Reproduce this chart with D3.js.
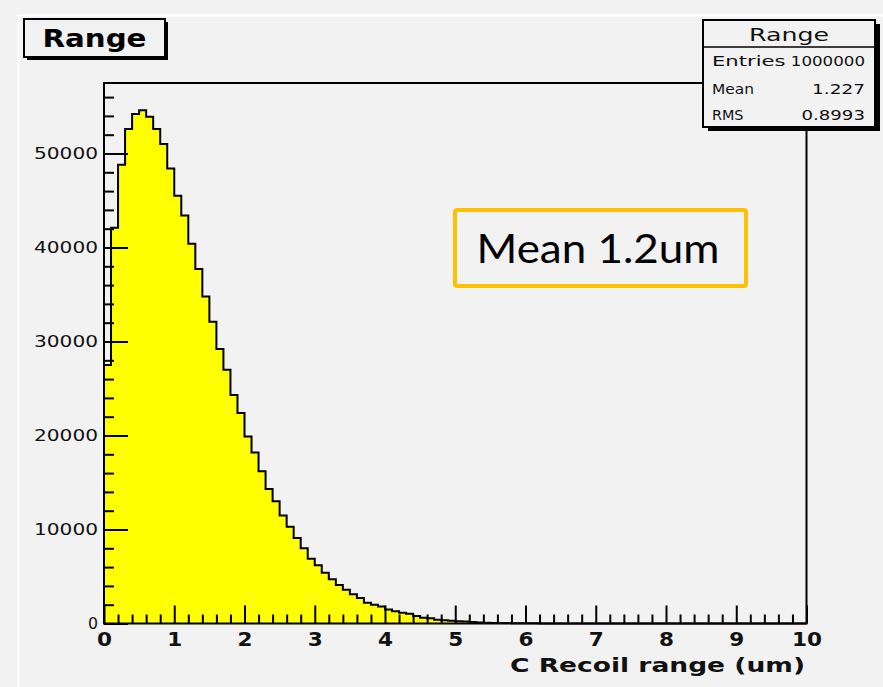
<!DOCTYPE html>
<html>
<head>
<meta charset="utf-8">
<script src="https://cdn.jsdelivr.net/npm/d3@7"></script>
<style>
  html, body { margin: 0; padding: 0; background: #f2f2f2; }
  svg { display: block; }
</style>
</head>
<body>
<svg id="chart" width="883" height="687"></svg>
<script>
// Histogram of C recoil range, 100 bins of 0.1 um from 0 to 10 um
const binLow = 0;
const binHigh = 10;
const binCounts = [
  27500, 42100, 48800, 52600, 54200, 54600, 53900, 52600, 51000, 48400,
  45500, 43400, 40400, 37700, 34800, 32100, 29200, 27000, 24300, 22400,
  19900, 18200, 16200, 14300, 13000, 11500, 10300, 9100, 8000, 6900,
  6200, 5400, 4700, 4100, 3600, 3100, 2700, 2200, 2000, 1800,
  1500, 1300, 1150, 1050, 800, 600, 550, 400, 350, 300,
  250, 200, 150, 100, 80, 60, 50, 40, 30, 25,
  20, 15, 12, 10, 8, 6, 5, 4, 3, 3,
  2, 2, 1, 1, 1, 1, 1, 0, 0, 0,
  0, 0, 0, 0, 0, 0, 0, 0, 0, 0,
  0, 0, 0, 0, 0, 0, 0, 0, 0, 0
];
const yMax = 57500;

// Axis ticks
const xMajorTicks = [0, 1, 2, 3, 4, 5, 6, 7, 8, 9, 10];
const xMinorStep = 0.2;
const yMajorTicks = [0, 10000, 20000, 30000, 40000, 50000];
const yMinorStep = 2000;

// Texts
const histTitle = "Range";
const xTitle = "C Recoil range (um)";
const statsTitle = "Range";
const statsNames = ["Entries", "Mean", "RMS"];
const statsValues = ["1000000", "1.227", "0.8993"];
const noteText = "Mean 1.2um";

const svg = d3.select("#chart");

// canvas background with the light pad edge
svg.append("rect").attr("x", 0).attr("y", 0).attr("width", 883).attr("height", 687).attr("fill", "#f2f2f2");
svg.append("line").attr("x1", 18).attr("x2", 883).attr("y1", 15.5).attr("y2", 15.5)
  .attr("stroke", "#ffffff").attr("stroke-width", 2);
svg.append("line").attr("x1", 18.5).attr("x2", 18.5).attr("y1", 15).attr("y2", 687)
  .attr("stroke", "#ffffff").attr("stroke-width", 2);

const frame = { left: 104, right: 806.5, top: 83, bottom: 623.5 };

const x = d3.scaleLinear().domain([binLow, binHigh]).range([frame.left, frame.right]);
const y = d3.scaleLinear().domain([0, yMax]).range([frame.bottom, frame.top]);

const binWidth = (binHigh - binLow) / binCounts.length;
const steps = binCounts.map((c, i) => ({ x: binLow + i * binWidth, v: c }));
steps.push({ x: binHigh, v: binCounts[binCounts.length - 1] });

// filled histogram
const area = d3.area()
  .curve(d3.curveStepAfter)
  .x(d => x(d.x))
  .y0(y(0))
  .y1(d => y(d.v));
svg.append("path").datum(steps)
  .attr("d", area)
  .attr("fill", "#ffff00");

// histogram outline
const outline = d3.line()
  .curve(d3.curveStepAfter)
  .x(d => x(d.x))
  .y(d => y(d.v));
svg.append("path").datum([{ x: binLow, v: 0 }].concat(steps))
  .attr("d", d3.line().x(d => x(d.x)).y(d => y(d.v))
    .curve(d3.curveStepAfter)(steps))
  .attr("fill", "none")
  .attr("stroke", "#000")
  .attr("stroke-width", 2);
svg.append("line")
  .attr("x1", x(binLow)).attr("x2", x(binLow))
  .attr("y1", y(0)).attr("y2", y(binCounts[0]))
  .attr("stroke", "#000").attr("stroke-width", 2);

// y axis: major and minor ticks pointing into the frame
const yMinorTicks = d3.range(0, yMax, yMinorStep).filter(v => !yMajorTicks.includes(v));
const yAxisG = svg.append("g").attr("transform", `translate(${frame.left},0)`);
yAxisG.call(d3.axisLeft(y).tickValues(yMajorTicks).tickSize(-24).tickPadding(6).tickFormat(d3.format("d")));
const yMinorG = svg.append("g").attr("transform", `translate(${frame.left},0)`);
yMinorG.call(d3.axisLeft(y).tickValues(yMinorTicks).tickSize(-10).tickFormat(""));

// x axis
const xMinorTicks = d3.range(0, binHigh + 1e-9, xMinorStep)
  .map(v => +v.toFixed(1)).filter(v => !xMajorTicks.includes(v));
const xAxisG = svg.append("g").attr("transform", `translate(0,${frame.bottom})`);
xAxisG.call(d3.axisBottom(x).tickValues(xMajorTicks).tickSize(-18).tickPadding(8).tickFormat(d3.format("d")));
const xMinorG = svg.append("g").attr("transform", `translate(0,${frame.bottom})`);
xMinorG.call(d3.axisBottom(x).tickValues(xMinorTicks).tickSize(-9).tickFormat(""));

[yAxisG, yMinorG, xAxisG, xMinorG].forEach(g => {
  g.select(".domain").remove();
  g.selectAll(".tick line").attr("stroke", "#000").attr("stroke-width", 2);
});

yAxisG.selectAll(".tick text")
  .attr("font-family", "DejaVu Sans, sans-serif")
  .attr("font-size", 16)
  .attr("fill", "#111")
  .attr("textLength", d => d === 0 ? 10 : 64)
  .attr("lengthAdjust", "spacingAndGlyphs");

xAxisG.selectAll(".tick text")
  .attr("font-family", "DejaVu Sans, sans-serif")
  .attr("font-weight", "bold")
  .attr("font-size", 20)
  .attr("fill", "#111")
  .attr("textLength", d => String(d).length * 15)
  .attr("lengthAdjust", "spacingAndGlyphs");

// frame
svg.append("rect")
  .attr("x", frame.left).attr("y", frame.top)
  .attr("width", frame.right - frame.left).attr("height", frame.bottom - frame.top)
  .attr("fill", "none").attr("stroke", "#000").attr("stroke-width", 2);

// x axis title
svg.append("text")
  .attr("x", 805).attr("y", 672)
  .attr("text-anchor", "end")
  .attr("font-family", "DejaVu Sans, sans-serif")
  .attr("font-weight", "bold")
  .attr("font-size", 20)
  .attr("fill", "#111")
  .attr("textLength", 295)
  .attr("lengthAdjust", "spacingAndGlyphs")
  .text(xTitle);

// histogram title box with shadow
const tb = { x: 24, y: 19, w: 141, h: 38 };
svg.append("rect").attr("x", tb.x + 3).attr("y", tb.y + 3).attr("width", tb.w).attr("height", tb.h).attr("fill", "#000");
svg.append("rect").attr("x", tb.x).attr("y", tb.y).attr("width", tb.w).attr("height", tb.h)
  .attr("fill", "#f2f2f2").attr("stroke", "#000").attr("stroke-width", 2);
svg.append("text")
  .attr("x", tb.x + tb.w / 2).attr("y", tb.y + 28)
  .attr("text-anchor", "middle")
  .attr("font-family", "DejaVu Sans, sans-serif")
  .attr("font-weight", "bold")
  .attr("font-size", 25)
  .attr("fill", "#000")
  .attr("textLength", 104)
  .attr("lengthAdjust", "spacingAndGlyphs")
  .text(histTitle);

// statistics box with shadow
const sb = { x: 703, y: 20, w: 172, h: 107, head: 27 };
svg.append("rect").attr("x", sb.x + 5).attr("y", sb.y + 4).attr("width", sb.w).attr("height", sb.h).attr("fill", "#000");
svg.append("rect").attr("x", sb.x).attr("y", sb.y).attr("width", sb.w).attr("height", sb.h)
  .attr("fill", "#f2f2f2").attr("stroke", "#000").attr("stroke-width", 2);
svg.append("line").attr("x1", sb.x).attr("x2", sb.x + sb.w).attr("y1", sb.y + sb.head).attr("y2", sb.y + sb.head)
  .attr("stroke", "#000").attr("stroke-width", 1.5);
svg.append("text")
  .attr("x", sb.x + sb.w / 2).attr("y", sb.y + 21)
  .attr("text-anchor", "middle")
  .attr("font-family", "DejaVu Sans, sans-serif")
  .attr("font-size", 18)
  .attr("fill", "#111")
  .attr("textLength", 80)
  .attr("lengthAdjust", "spacingAndGlyphs")
  .text(statsTitle);
const rowY = [66, 94, 120];
statsNames.forEach((name, i) => {
  svg.append("text")
    .attr("x", sb.x + 9).attr("y", rowY[i])
    .attr("font-family", "DejaVu Sans, sans-serif")
    .attr("font-size", 14)
    .attr("fill", "#111")
    .attr("textLength", name.length * 10.5)
    .attr("lengthAdjust", "spacingAndGlyphs")
    .text(name);
  svg.append("text")
    .attr("x", sb.x + sb.w - 10).attr("y", rowY[i])
    .attr("text-anchor", "end")
    .attr("font-family", "DejaVu Sans, sans-serif")
    .attr("font-size", 14)
    .attr("fill", "#111")
    .attr("textLength", statsValues[i].length * 10.6)
    .attr("lengthAdjust", "spacingAndGlyphs")
    .text(statsValues[i]);
});

// annotation callout
svg.append("rect")
  .attr("x", 455).attr("y", 210).attr("width", 291).attr("height", 76)
  .attr("rx", 2)
  .attr("fill", "#f2f2f2").attr("stroke", "#ffc000").attr("stroke-width", 4);
svg.append("text")
  .attr("x", 598).attr("y", 263)
  .attr("text-anchor", "middle")
  .attr("font-family", "Lato, 'Open Sans', sans-serif")
  .attr("font-size", 40)
  .attr("fill", "#000")
  .attr("textLength", 243)
  .attr("lengthAdjust", "spacingAndGlyphs")
  .text(noteText);
</script>
</body>
</html>
